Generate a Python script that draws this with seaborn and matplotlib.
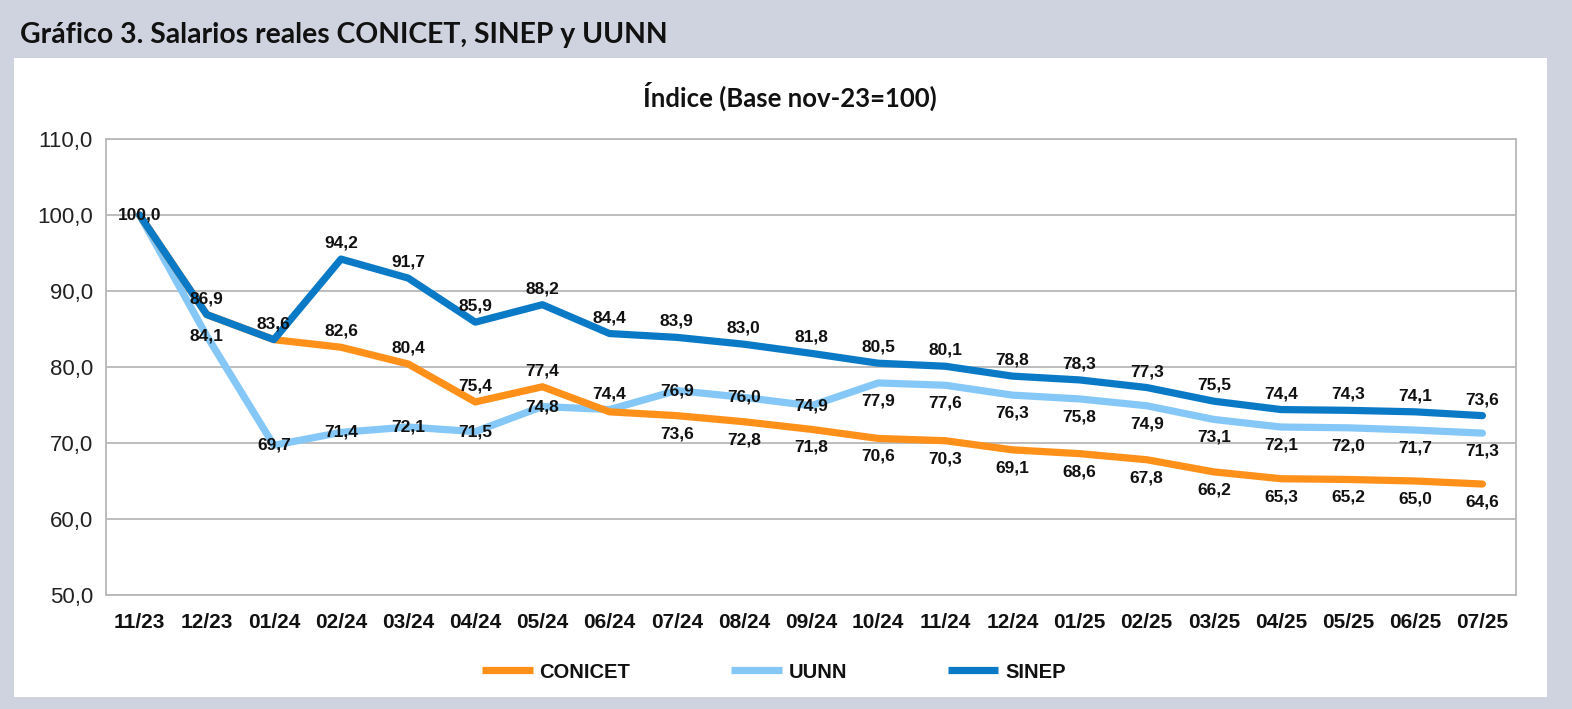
import numpy as np
import pandas as pd
import matplotlib
matplotlib.use("Agg")
import matplotlib.pyplot as plt
from matplotlib.patches import Rectangle
from matplotlib.lines import Line2D
import seaborn as sns

months = ["11/23", "12/23", "01/24", "02/24", "03/24", "04/24", "05/24", "06/24",
          "07/24", "08/24", "09/24", "10/24", "11/24", "12/24", "01/25", "02/25",
          "03/25", "04/25", "05/25", "06/25", "07/25"]
conicet = [100.0, 86.9, 83.6, 82.6, 80.4, 75.4, 77.4, 74.1, 73.6, 72.8, 71.8,
           70.6, 70.3, 69.1, 68.6, 67.8, 66.2, 65.3, 65.2, 65.0, 64.6]
uunn = [100.0, 84.1, 69.7, 71.4, 72.1, 71.5, 74.8, 74.4, 76.9, 76.0, 74.9,
        77.9, 77.6, 76.3, 75.8, 74.9, 73.1, 72.1, 72.0, 71.7, 71.3]
sinep = [100.0, 86.9, 83.6, 94.2, 91.7, 85.9, 88.2, 84.4, 83.9, 83.0, 81.8,
         80.5, 80.1, 78.8, 78.3, 77.3, 75.5, 74.4, 74.3, 74.1, 73.6]
yticks = [50, 60, 70, 80, 90, 100, 110]

# label vertical offsets in pixels (None = label not shown)
off_conicet = [None, None, None, 16, 16, 16, 16, None] + [-18] * 13
off_uunn = [None, 0, 0, 0, 0, 0, 0, 16, 0, 0, 0] + [-18] * 10
off_sinep = [0] + [16] * 20

colors = {"CONICET": "#FF9019", "UUNN": "#85C8F7", "SINEP": "#0B7AC6"}

df = pd.concat([
    pd.DataFrame({"mes": months, "valor": uunn, "serie": "UUNN"}),
    pd.DataFrame({"mes": months, "valor": conicet, "serie": "CONICET"}),
    pd.DataFrame({"mes": months, "valor": sinep, "serie": "SINEP"}),
], ignore_index=True)

sns.set_style("white")
plt.rcParams["font.family"] = ["Liberation Sans", "DejaVu Sans"]

W, H = 1572, 709
fig = plt.figure(figsize=(W / 100, H / 100), dpi=100)
fig.patch.set_facecolor("#CED3DF")

# white panel
fig.patches.append(Rectangle((14 / W, 1 - 697 / H), (1547 - 14) / W, (697 - 58) / H,
                             transform=fig.transFigure, facecolor="white",
                             edgecolor="none", zorder=-5))

fig.text(20 / W, 1 - 35 / H, "Gráfico 3. Salarios reales CONICET, SINEP y UUNN",
         fontsize=20.4, fontweight="bold", family=["Lato", "DejaVu Sans"],
         ha="left", va="center", color="#111111")
fig.text(790 / W, 1 - 96 / H, "Índice (Base nov-23=100)",
         fontsize=18.5, fontweight="bold", family=["Lato", "DejaVu Sans"],
         ha="center", va="center", color="#111111")

ax = fig.add_axes([106 / W, 1 - 595 / H, (1516 - 106) / W, (595 - 139) / H])
ax.set_facecolor("white")
ax.set_zorder(2)

sns.lineplot(data=df, x="mes", y="valor", hue="serie",
             hue_order=["UUNN", "CONICET", "SINEP"], palette=colors,
             linewidth=5.2, legend=False, sort=False, ax=ax)

ax.set_xlim(-0.5, len(months) - 0.5)
ax.set_ylim(50, 110)
ax.set_yticks(yticks)
ax.set_yticklabels([f"{v:.1f}".replace(".", ",") for v in yticks])
ax.yaxis.grid(True, color="#B8B8B8", linewidth=1.3)
ax.set_axisbelow(True)
ax.set_xlabel("")
ax.set_ylabel("")
for s in ax.spines.values():
    s.set_color("#B8B8B8")
    s.set_linewidth(1.3)
ax.set_xticks(range(len(months)))
ax.set_xticklabels(months)
ax.set_xticks(np.arange(-0.5, len(months), 1), minor=True)
ax.tick_params(axis="x", which="major", length=0, pad=13, labelsize=15)
ax.tick_params(axis="x", which="minor", length=8/1.389, color="#B8B8B8", width=1.3)
ax.tick_params(axis="y", length=9/1.389, color="#B8B8B8", width=1.3, pad=3,
               labelsize=16, labelcolor="#222222")
for t in ax.get_xticklabels():
    t.set_fontweight("bold")
    t.set_color("#111111")

for vals, offs in [(uunn, off_uunn), (conicet, off_conicet), (sinep, off_sinep)]:
    for i, (v, o) in enumerate(zip(vals, offs)):
        if o is None:
            continue
        ax.annotate(f"{v:.1f}".replace(".", ","), (i, v), xytext=(0, o / 1.389),
                    textcoords="offset points", ha="center", va="center",
                    fontsize=12.5, fontweight="bold", color="#111111", zorder=5)

handles = [Line2D([], [], color=colors[k], linewidth=5.2, solid_capstyle="butt")
           for k in ["CONICET", "UUNN", "SINEP"]]
leg = fig.legend(handles, ["CONICET", "UUNN", "SINEP"], loc="center",
                 bbox_to_anchor=(774 / W, 1 - 672 / H), ncol=3, frameon=False,
                 handlelength=2.5, handletextpad=0.35, columnspacing=5.0,
                 prop={"weight": "bold", "size": 14.5})
for t in leg.get_texts():
    t.set_color("#111111")

fig.savefig("out.png", dpi=100, facecolor=fig.get_facecolor())
